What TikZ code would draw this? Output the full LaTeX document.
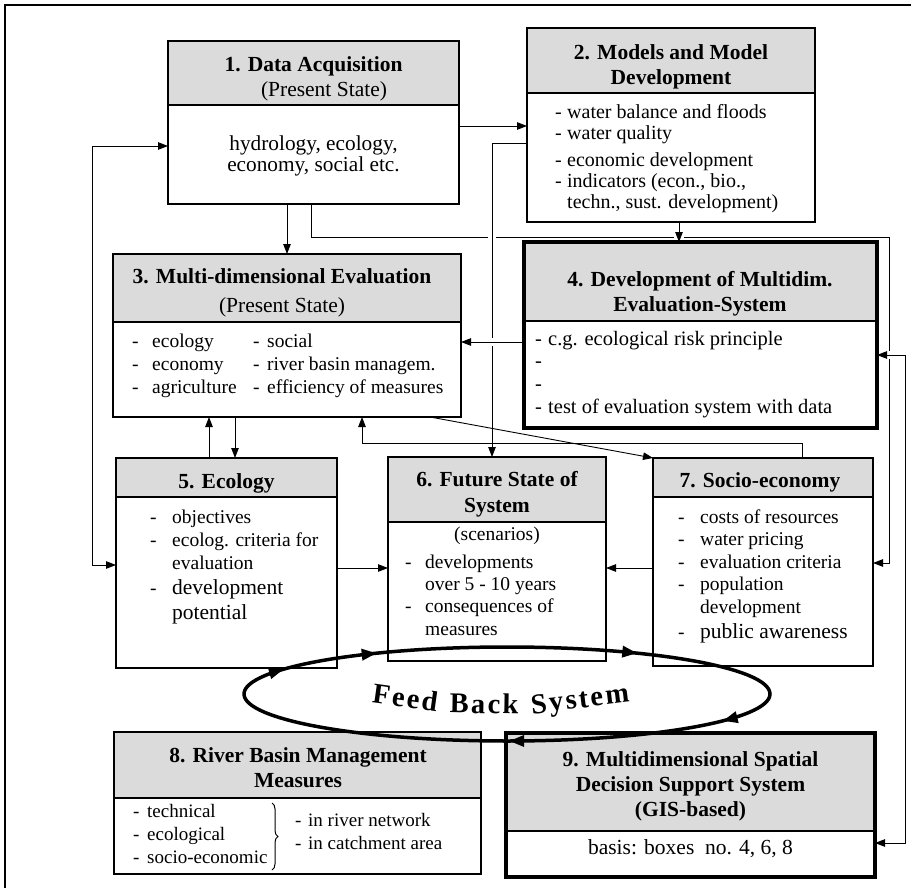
\documentclass[tikz,border=0pt]{standalone}
\usepackage{fontspec}
\setmainfont{Liberation Serif}
\usetikzlibrary{arrows.meta,calc,fit,decorations.markings,decorations.pathreplacing}
\definecolor{hdgray}{gray}{0.86}
\newlength\dashw
\newcommand\ditem{\makebox[\dashw][l]{-}}
\newcommand\citem{\hspace*{\dashw}}
\newcommand\fsz[2]{\fontsize{#1}{#2}\selectfont}
\newcommand\fbfont{\bfseries\fontsize{28.5}{32}\selectfont\addfontfeature{LetterSpace=8}}
\newcommand\hdr[1]{\begin{tabular}[t]{@{}c@{}}#1\end{tabular}}
\newcommand\lst[1]{\begin{tabular}[t]{@{}l@{}}#1\end{tabular}}
\newcommand\mkbox[7]{%
  \node[fit={(#2,#3)(#4,#6)}, inner sep=0pt, outer sep=0pt, fill=white] (#1) {};
  \node[fit={(#2,#3)(#4,#5)}, inner sep=0pt, outer sep=0pt, fill=hdgray] (#1h) {};
  \draw[line width=1.4pt] (#1h.south west) -- (#1h.south east);
  \draw[line width=#7] (#1.north west) rectangle (#1.south east);
}
\begin{document}
\begin{tikzpicture}[x=1pt,y=-1pt,
  arr/.style={line width=0.9pt,-{Triangle[length=10pt,width=7.5pt]}},
  arr2/.style={line width=0.9pt,{Triangle[length=10pt,width=7.5pt]}-{Triangle[length=10pt,width=7.5pt]}},
  hdt/.style={inner sep=0pt, anchor=base, font=\bfseries\fsz{21.5}{25}},
  txt/.style={inner sep=0pt, anchor=base west},
  ctx/.style={inner sep=0pt, anchor=base},
  fbt/.style={inner sep=0pt, anchor=base, font=\fbfont},
  gapw/.style={white, line width=4pt}]
\useasboundingbox (0,0) rectangle (911,888);
\draw[line width=1.8pt] (911,5) -- (5,5) -- (5,888);

% boxes
\mkbox{b1}{168}{41}{459}{105}{204}{1.6pt}
\mkbox{b2}{527}{28}{815}{93}{222}{1.6pt}
\mkbox{b3}{113}{254}{461}{322}{417}{1.6pt}
\mkbox{b4}{524}{242}{877}{321}{428}{4pt}
\mkbox{b5}{116}{458}{337}{497}{668}{1.6pt}
\mkbox{b6}{388}{457}{606}{522}{661}{1.6pt}
\mkbox{b7}{653}{458}{873}{497}{666}{1.6pt}
\mkbox{b8}{114}{732}{481}{798}{874}{1.6pt}
\mkbox{b9}{506}{733}{875}{831}{877}{4pt}

% texts
\node[hdt] (h1) at (313.5,71.7) {\hdr{1. Data Acquisition\\\hspace*{21pt}\mdseries (Present State)}};
\node[ctx, font=\fsz{21.3}{20.8}] (t1) at (313.5,150.5) {\hdr{hydrology, ecology,\\economy, social etc.}};

\node[hdt] (h2) at (671,60) {\hdr{2. Models and Model\\Development}};
\node[txt] (t2) at (555,118.3) {\setlength\dashw{12pt}\fsz{20}{21.3}\lst{\ditem water balance and floods\\ \ditem water quality\\[5.4pt] \ditem economic development\\ \ditem indicators (econ., bio.,\\ \citem techn., sust. development)}};

\node[hdt] (h3) at (282,283.3) {\hdr{3. Multi-dimensional Evaluation\\[4pt]\mdseries (Present State)}};
\node[txt] (t3a) at (132,347.3) {\setlength\dashw{20pt}\fsz{19.5}{23}\lst{\ditem ecology\\ \ditem economy\\ \ditem agriculture}};
\node[txt] (t3b) at (253,347.3) {\setlength\dashw{14pt}\fsz{19.5}{23}\lst{\ditem social\\ \ditem river basin managem.\\ \ditem efficiency of measures}};

\node[hdt] (h4) at (700,286) {\hdr{4. Development of Multidim.\\Evaluation-System}};
\node[txt] (t4) at (535,345) {\setlength\dashw{13pt}\fsz{20.5}{22.8}\lst{\ditem c.g. ecological risk principle\\ \ditem\\ \ditem\\ \ditem test of evaluation system with data}};

\node[hdt] (h5) at (226.5,488.3) {5. Ecology};
\node[txt] (t5) at (150,523.3) {\setlength\dashw{22pt}\fsz{19.5}{23}\lst{\ditem objectives\\ \ditem ecolog. criteria for\\ \citem evaluation\\[1.7pt] \ditem{\fsz{21.5}{25}development}\\[2pt] \citem{\fsz{21.5}{25}potential}}};

\node[hdt] (h6) at (497,486.7) {\hdr{6. Future State of\\[0.6pt]System}};
\node[ctx, font=\fsz{19.5}{23}] (t6a) at (497,540.7) {(scenarios)};
\node[txt] (t6b) at (405,568.3) {\setlength\dashw{20pt}\fsz{19.5}{22.3}\lst{\ditem developments\\ \citem over 5 - 10 years\\ \ditem consequences of\\ \citem measures}};

\node[hdt] (h7) at (760,487.7) {7. Socio-economy};
\node[txt] (t7) at (678,523.3) {\setlength\dashw{22pt}\fsz{19.5}{22.5}\lst{\ditem costs of resources\\ \ditem water pricing\\ \ditem evaluation criteria\\ \ditem population\\ \citem development\\[2.5pt] \ditem{\fsz{21.5}{25}public awareness}}};

\node[hdt] (h8) at (298,762.3) {\hdr{8. River Basin Management\\Measures}};
\node[txt] (t8a) at (133,817.7) {\setlength\dashw{14pt}\fsz{19}{22.8}\lst{\ditem technical\\ \ditem ecological\\ \ditem socio-economic}};
\node[txt] (t8b) at (295,826.7) {\setlength\dashw{13pt}\fsz{19}{22.6}\lst{\ditem in river network\\ \ditem in catchment area}};
\draw[line width=1pt, decorate, decoration={brace, amplitude=6pt}] (272,803) -- (272,870);

\node[hdt] (h9) at (690.5,766.7) {\hdr{9. Multidimensional Spatial\\Decision Support System\\(GIS-based)}};
\node[ctx, font=\fsz{21.5}{25}] (t9) at (690.5,854.3) {basis: boxes\ \ no. 4, 6, 8};

% connector coordinates
\coordinate (c1) at ($(b1.north east)+(0,85)$);
\coordinate (c2a) at ($(b1.north west)+(0,105)$);
\coordinate (c2b) at ($(b5.north west)+(0,107)$);
\coordinate (c3) at ($(b1.south west)+(119,0)$);
\coordinate (c4) at ($(b1.south west)+(143,0)$);
\coordinate (c4m) at ($(c4)+(0,33)$);
\coordinate (c4e) at ($(b7.north east)+(0,105)$);
\coordinate (c4v) at ($(c4e)+(16,0)$);
\coordinate (c5) at ($(b2.north west)+(0,115)$);
\coordinate (c5e) at ($(b6.north west)+(104,0)$);
\coordinate (c6) at ($(b2.south west)+(152,0)$);
\coordinate (c7) at ($(b4.north west)+(0,100)$);
\coordinate (c8a) at ($(b4.north east)+(0,113)$);
\coordinate (c8b) at ($(b9.north east)+(0,110)$);
\coordinate (c9) at ($(b5.north west)+(93,0)$);
\coordinate (c10) at ($(b3.south west)+(122,0)$);
\coordinate (c11) at ($(b7.north west)+(149,0)$);
\coordinate (c11e) at ($(b3.south west)+(249,0)$);
\coordinate (c12) at ($(b3.south west)+(317,0)$);
\coordinate (c13) at ($(b5.north east)+(0,110)$);
\coordinate (c14) at ($(b7.north west)+(0,110)$);

% connectors
\draw[arr] (c1) -- (c1 -| b2.west);
\draw[arr2] (c2a) -- ++(-76,0) |- (c2b);
\draw[arr] (c3) -- (c3 |- b3.north);
\draw[arr] (c4) -- (c4m) -| (c4v) -- (c4e);
\draw[gapw] ($(c4m -| c5e)+(-4,0)$) -- ($(c4m -| c5e)+(4,0)$);
\draw[gapw] ($(c4m -| c6)+(-5,0)$) -- ($(c4m -| c6)+(5,0)$);
\draw[gapw] ($(c4v |- c8a)+(0,-4)$) -- ($(c4v |- c8a)+(0,4)$);
\draw[arr] (c5) -| (c5e);
\draw[arr] (c6) -- (c6 |- b4.north);
\draw[gapw] ($(c5e |- c7)+(0,-4)$) -- ($(c5e |- c7)+(0,4)$);
\draw[arr] (c7) -- (c7 -| b3.east);
\draw[arr2] (c8a) -- ++(28,0) |- (c8b);
\draw[arr] (c9) -- (c9 |- b3.south);
\draw[arr] (c10) -- (c10 |- b5.north);
\draw[arr] (c11) -- ++(0,-15) -| (c11e);
\draw[arr] (c12) -- (b7.north west);
\draw[arr] (c13) -- (c13 -| b6.west);
\draw[arr] (c14) -- (c14 -| b6.east);

% feed back loop
\draw[line width=3.5pt, line cap=round, postaction={decorate}, decoration={markings,
  mark=at position 0.045 with {\arrow{Triangle[length=15pt,width=11pt]}},
  mark=at position 0.131 with {\arrow{Triangle[length=15pt,width=11pt]}},
  mark=at position 0.369 with {\arrow{Triangle[length=15pt,width=11pt]}},
  mark=at position 0.552 with {\arrow{Triangle[length=15pt,width=11pt]}},
  mark=at position 0.748 with {\arrow{Triangle[length=15pt,width=11pt]}}}]
  (244,694) .. controls (244,668) and (362,647) .. (507,647)
  .. controls (652,647) and (770,668) .. (770,694)
  .. controls (770,720) and (652,741) .. (507,741)
  .. controls (362,741) and (244,720) .. (244,694);
\node[fbt, rotate=-8] (fb1) at (404,707) {Feed};
\node[fbt, rotate=-1] (fb2) at (484,713.5) {Back};
\node[fbt, rotate=7] (fb3) at (581,708) {System};
\end{tikzpicture}
\end{document}
